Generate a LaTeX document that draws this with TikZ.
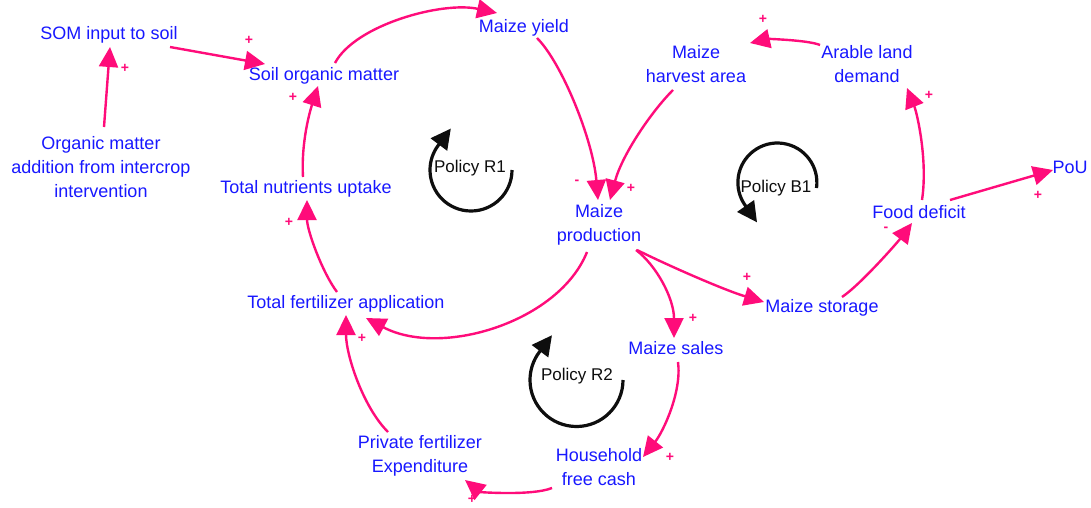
\documentclass[tikz,border=0pt]{standalone}
\usepackage{fontspec}
\setmainfont{Liberation Sans}
\usetikzlibrary{arrows.meta}
\definecolor{varblue}{RGB}{24,24,255}
\definecolor{linkpink}{RGB}{255,12,122}
\definecolor{loopink}{RGB}{14,14,14}
\tikzset{
  var/.style={text=varblue, font=\fontsize{18}{24}\selectfont, align=center, inner sep=0pt},
  link/.style={draw=linkpink, line width=2.4pt, -{Triangle[length=20pt,width=19pt]}},
  sign/.style={text=linkpink, font=\fontsize{14}{14}\selectfont\bfseries, inner sep=0pt},
  loopname/.style={text=loopink, font=\fontsize{17}{20}\selectfont, inner sep=0pt},
  loopar/.style={draw=loopink, line width=3.2pt, -{Triangle[length=20pt,width=20pt]}}
}
\begin{document}
\begin{tikzpicture}[x=1pt,y=1pt]
\useasboundingbox[fill=white] (0,0) rectangle (1091,-507);

% variables
\node[var] (som)     at (109,-35)  {SOM input to soil};
\node[var] (soil)    at (324,-76)  {Soil organic matter};
\node[var] (yield)   at (524,-28)  {Maize yield};
\node[var] (harvest) at (696,-64)  {Maize\\harvest area};
\node[var] (arable)  at (867,-64)  {Arable land\\demand};
\node[var] (omadd)   at (101,-167) {Organic matter\\addition from intercrop\\intervention};
\node[var] (nutr)    at (306,-189) {Total nutrients uptake};
\node[var] (prod)    at (599,-225) {Maize\\production};
\node[var] (food)    at (919,-212) {Food deficit};
\node[var] (pou)     at (1070,-167) {PoU};
\node[var] (fert)    at (346,-304) {Total fertilizer application};
\node[var] (storage) at (822,-308) {Maize storage};
\node[var] (sales)   at (676,-348) {Maize sales};
\node[var] (pfe)     at (420,-456) {Private fertilizer\\Expenditure};
\node[var] (cash)    at (599,-467) {Household\\free cash};

% loop names
\node[loopname] (r1) at (470,-168) {Policy R1};
\node[loopname] (b1) at (776,-188) {Policy B1};
\node[loopname] (r2) at (577,-376) {Policy R2};

% causal links
\draw[link] ([shift={(61,-12)}]som.center) -- ([shift={(-59,12)}]soil.center);
\draw[link] ([shift={(3,40)}]omadd.center) -- ([shift={(1,-12)}]som.center);
\draw[link] ([shift={(11,13)}]soil.center) .. controls +(20,38) and +(-55,12) .. ([shift={(-27,15)}]yield.center);
\draw[link] ([shift={(13,-10)}]yield.center) .. controls +(25,-25) and +(-5,60) .. ([shift={(-1,25)}]prod.center);
\draw[link] ([shift={(-23,-26)}]harvest.center) .. controls +(-22,-22) and +(12,45) .. ([shift={(11,25)}]prod.center);
\draw[link] ([shift={(-47,19)}]arable.center) .. controls +(-12,5) and +(18,4) .. ([shift={(54,21)}]harvest.center);
\draw[link] ([shift={(3,12)}]food.center) .. controls +(6,40) and +(10,-25) .. ([shift={(40,-24)}]arable.center);
\draw[link] ([shift={(31,12)}]food.center) -- ([shift={(-17,-3)}]pou.center);
\draw[link] ([shift={(38,-25)}]prod.center) .. controls +(30,-15) and +(-40,12) .. ([shift={(-58,6)}]storage.center);
\draw[link] ([shift={(37,-25)}]prod.center) .. controls +(20,-15) and +(0,40) .. ([shift={(-2,10)}]sales.center);
\draw[link] ([shift={(20,11)}]storage.center) .. controls +(18,12) and +(-15,-20) .. ([shift={(-7,-11)}]food.center);
\draw[link] ([shift={(2,-14)}]sales.center) .. controls +(4,-30) and +(20,25) .. ([shift={(44,10)}]cash.center);
\draw[link] ([shift={(-47,-21)}]cash.center) .. controls +(-20,-8) and +(15,-12) .. ([shift={(45,-24)}]pfe.center);
\draw[link] ([shift={(-32,24)}]pfe.center) .. controls +(-25,25) and +(0,-40) .. ([shift={(0,-11)}]fert.center);
\draw[link] ([shift={(-12,-27)}]prod.center) .. controls +(-28,-70) and +(75,-40) .. ([shift={(20,-14)}]fert.center);
\draw[link] ([shift={(-9,12)}]fert.center) .. controls +(-15,20) and +(0,-30) .. ([shift={(1,-11)}]nutr.center);
\draw[link] ([shift={(-3,12)}]nutr.center) .. controls +(-2,35) and +(-8,-25) .. ([shift={(-6,-10)}]soil.center);

% polarities
\node[sign] (p1)  at (249,-40)  {+};
\node[sign] (p2)  at (125,-68)  {+};
\node[sign] (p3)  at (577,-182) {-};
\node[sign] (p4)  at (631,-188) {+};
\node[sign] (p5)  at (763,-19)  {+};
\node[sign] (p6)  at (929,-95)  {+};
\node[sign] (p7)  at (1038,-195) {+};
\node[sign] (p8)  at (747,-277) {+};
\node[sign] (p9)  at (693,-318) {+};
\node[sign] (p10) at (886,-229) {-};
\node[sign] (p11) at (670,-457) {+};
\node[sign] (p12) at (472,-499) {+};
\node[sign] (p13) at (362,-338) {+};
\node[sign] (p14) at (289,-222) {+};
\node[sign] (p15) at (293,-97)  {+};

% loop markers
\draw[loopar] ([shift={(42,-2)}]r1.center) arc[start angle=0, end angle=-217, radius=41] -- ++(12.6,16.8);
\draw[loopar] ([shift={(40.5,0)}]b1.center) arc[start angle=-8, end angle=215, radius=39.5] -- ++(12,-17.2);
\draw[loopar] ([shift={(46,-4)}]r2.center) arc[start angle=0, end angle=-217, radius=46.5] -- ++(12.6,16.8);
\end{tikzpicture}
\end{document}
